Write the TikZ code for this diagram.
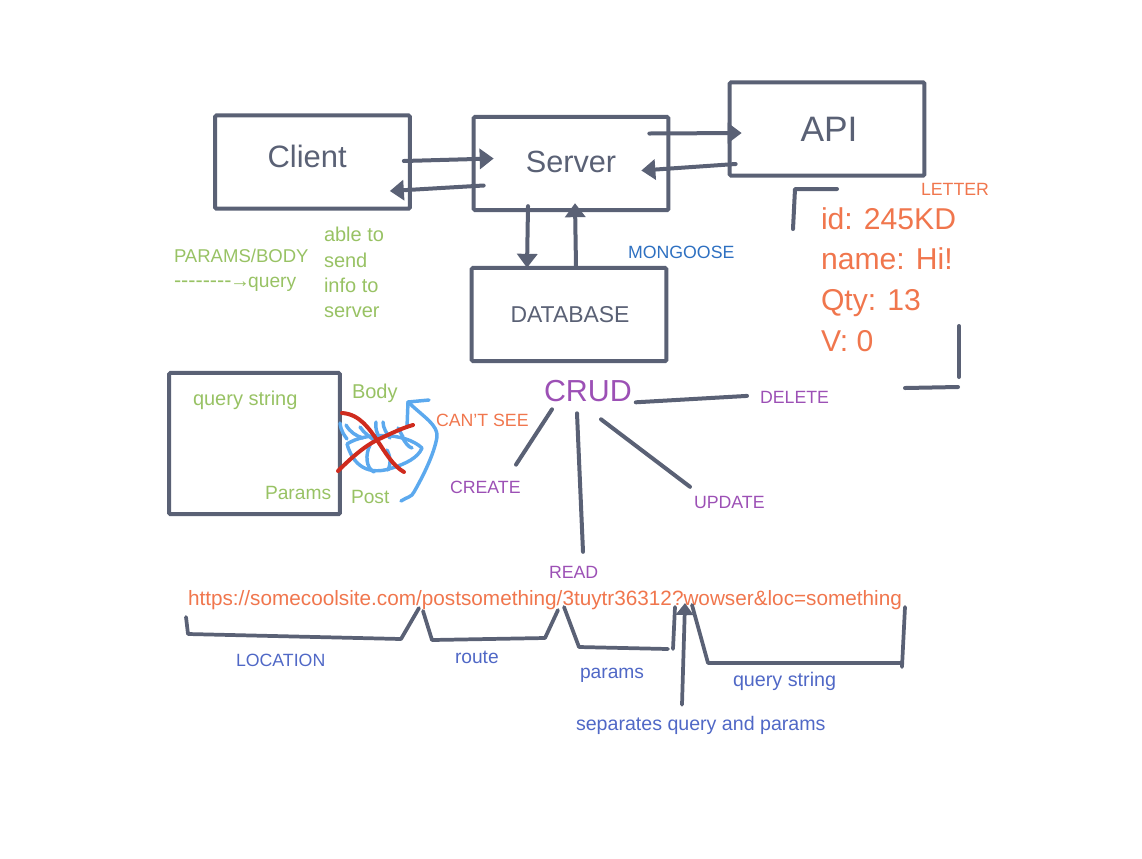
\documentclass[tikz,border=0pt]{standalone}
\usepackage{fontspec}
\setmainfont{Liberation Sans}
\usetikzlibrary{arrows.meta}
\definecolor{slate}{HTML}{5A6175}
\definecolor{grn}{HTML}{98C264}
\definecolor{org}{HTML}{F0764D}
\definecolor{pur}{HTML}{9C50B5}
\definecolor{ind}{HTML}{5068C6}
\definecolor{mong}{HTML}{2E70C1}
\definecolor{sky}{HTML}{5CA9EE}
\definecolor{rd}{HTML}{CF2B1E}

\begin{document}
\begin{tikzpicture}[  x=0.75pt,  y=-0.75pt,  every node/.style={inner sep=0pt, outer sep=0pt},  box/.style={draw=slate, line width=3pt, rounded corners=1pt, minimum width=146pt, minimum height=70pt, text=slate},  txt/.style={anchor=base west, font=\fontsize{14.4}{16}\selectfont},  caps/.style={anchor=base west, font=\fontsize{13.3}{16}\selectfont},  long/.style={anchor=base west, font=\fontsize{15}{16}\selectfont},  big/.style={anchor=base west, font=\fontsize{22.6}{24}\selectfont},  pen/.style={draw=slate, line width=3pt, line cap=round, line join=round},  arr/.style={pen, -{Triangle[length=10.5pt,width=15pt]}},  eye/.style={draw=sky, line width=2.6pt, line cap=round, line join=round},  cross/.style={draw=rd, line width=3pt, line cap=round},  ]

  \useasboundingbox (0,0) rectangle (1142,858);

  % main boxes
  \node[box, font=\fontsize{23.2}{24}\selectfont] (client) at (312.5,162) {\raisebox{8pt}{Client}\kern8pt};
  \node[box, font=\fontsize{23}{24}\selectfont] (server) at (571,163.5) {\raisebox{2pt}{Server}};
  \node[box, font=\fontsize{26.5}{30}\selectfont] (api) at (827,129) {\hspace{3pt}API};
  \node[box, font=\fontsize{17.2}{20}\selectfont] (database) at (569,314.5) {\hspace{1.5pt}DATABASE};
  \node[box, minimum width=128pt, minimum height=106pt] (querybox) at (254.5,443.5) {};

  % arrows between the boxes
  \draw[arr] ([shift={(-6,-1)}]client.east) -- ([shift={(20,-5)}]server.west);
  \draw[arr] ([shift={(10,22)}]server.west) -- ([shift={(-20,29)}]client.east);
  \draw[arr] ([shift={(-19,-30)}]server.east) -- ([shift={(12,4)}]api.west);
  \draw[arr] ([shift={(6,35)}]api.west) -- ([shift={(-27,7)}]server.east);
  \draw[arr] ([shift={(-43,-4)}]server.south) -- ([shift={(-42,0)}]database.north);
  \draw[arr] ([shift={(7,-1)}]database.north) -- ([shift={(4,-7)}]server.south);

  % green notes
  \node[caps, grn, font=\fontsize{13.9}{16}\selectfont] (paramsbody) at (174,262) {PARAMS/BODY};
  \node[txt, grn] (toquery) at (174,287) {\addfontfeature{Mapping=}{\fontsize{16.2}{16}\selectfont --------\kern-1pt\fontsize{15}{16}\selectfont →\kern-1.5pt}query};
  \node[long, grn] (able) at (324,241) {able to};
  \node[long, grn] (send) at (324,267) {send};
  \node[long, grn] (info) at (324,292) {info to};
  \node[long, grn] (toserver) at (324,317) {server};
  \node[caps, mong] (mongoose) at (628,258) {MONGOOSE};

  % letter
  \node[caps, org] (letter) at (921,195) {LETTER};
  \node[big, org] (idline) at (821,229) {id: 245KD};
  \node[big, org] (nameline) at (821,269) {name: Hi!};
  \node[big, org] (qtyline) at (821,310) {Qty: 13};
  \node[big, org] (vline) at (821,351) {V: 0};
  \coordinate (lettera) at (793,229);
  \coordinate (letterb) at (795,189);
  \coordinate (letterc) at (837,189);
  \coordinate (letterd) at (959,326);
  \coordinate (lettere) at (959,377);
  \coordinate (letterf) at (958,387);
  \coordinate (letterg) at (905,388);
  \draw[pen] (lettera) -- (letterb) -- (letterc);
  \draw[pen] (letterd) -- (lettere);
  \draw[pen] (letterf) -- (letterg);

  % query box
  \node[long, grn] (querylabel) at (193,405) {query string};
  \node[txt, grn] (paramslabel) at (265,499) {Params};
  \node[long, grn] (bodylabel) at (352,398) {Body};
  \node[txt, grn] (postlabel) at (351,503) {Post};
  \node[caps, org] (cantsee) at (436,426) {CAN'T SEE};

  % eye
  \draw[eye] (401,501) .. controls (407,497) and (412,497) .. (414,492) .. controls (422,478) and (434,455) .. (437,437) .. controls (438,425) and (425,418) .. (408,402) -- (429,400);
  \draw[eye] (408,402) -- (407,427);
  \draw[eye] (347,444) .. controls (365,432) and (405,432) .. (422,448) .. controls (418,458) and (405,464) .. (392,468) .. controls (375,474) and (355,472) .. (347,444);
  \draw[eye] (370,445) .. controls (365,455) and (366,468) .. (374,472);
  \draw[eye] (387,450) .. controls (391,458) and (391,463) .. (388,470);
  \draw[eye] (340,423) .. controls (341,432) and (345,436) .. (347,439);
  \draw[eye] (346,425) .. controls (350,432) and (356,436) .. (363,438);
  \draw[eye] (360,427) .. controls (364,433) and (370,437) .. (374,440);
  \draw[eye] (376,422) .. controls (375,428) and (377,433) .. (379,437);
  \draw[eye] (383,422) .. controls (383,428) and (387,434) .. (390,438);
  \draw[eye] (398,428) -- (403,437);
  \draw[eye] (402,437) .. controls (405,442) and (408,447) .. (412,448);
  \draw[cross] (342,413) .. controls (360,414) and (370,430) .. (377,440) .. controls (385,452) and (393,466) .. (404,472);
  \draw[cross] (338,471) .. controls (352,457) and (365,446) .. (377,440) .. controls (390,434) and (402,428) .. (413,425);

  % crud
  \node[anchor=base west, pur, font=\fontsize{22.8}{26}\selectfont] (crud) at (544,401) {CRUD};
  \node[caps, pur] (create) at (450,493) {CREATE};
  \node[caps, pur] (read) at (549,578) {READ};
  \node[caps, pur] (update) at (694,508) {UPDATE};
  \node[caps, pur] (delete) at (760,403) {DELETE};
  \draw[pen] ([shift={(4,1)}]crud.south east) -- ([shift={(-13,-1)}]delete.west);
  \draw[pen] ([shift={(8,8)}]crud.south west) -- ([shift={(66,-16)}]create.north west);
  \draw[pen] ([shift={(33,12)}]crud.south west) -- ([shift={(34,-14)}]read.north west);
  \draw[pen] ([shift={(57,18)}]crud.south west) -- ([shift={(-4,-9)}]update.north west);

  % url
  \node[txt, org, font=\fontsize{15.55}{16}\selectfont] (url) at (188,605) {https://somecoolsite.com/postsomething/3tuytr36312?wowser\&loc=something};
  \node[caps, ind] (location) at (236,666) {LOCATION};
  \node[txt, ind] (route) at (455,663) {route};
  \node[txt, ind] (params) at (580,678) {params};
  \node[txt, ind, font=\fontsize{14.8}{16}\selectfont] (querystr) at (733,686) {query string};
  \node[txt, ind, font=\fontsize{14.7}{16}\selectfont] (separates) at (576,730) {separates query and params};

  \coordinate (tipq) at (685,603);
  \draw[pen, line width=2.8pt] (186,617) -- (188,634) -- (401,639) -- (419,608);
  \draw[pen, line width=2.8pt] (423,611) -- (432,640) -- (545,638) -- (558,610);
  \draw[pen, line width=2.8pt] (564,607) -- (579,647) -- (668,649);
  \draw[pen, line width=2.8pt] (673,649) -- (675,607);
  \draw[arr, line width=2.8pt, -{Triangle[length=9pt,width=13pt]}] ([shift={(106,-11)}]separates.north west) -- (tipq);
  \draw[pen, line width=2.8pt] (692,605) -- (708,663) -- (902,663);
  \draw[pen, line width=2.8pt] (905,607) -- (902,667);
\end{tikzpicture}
\end{document}
